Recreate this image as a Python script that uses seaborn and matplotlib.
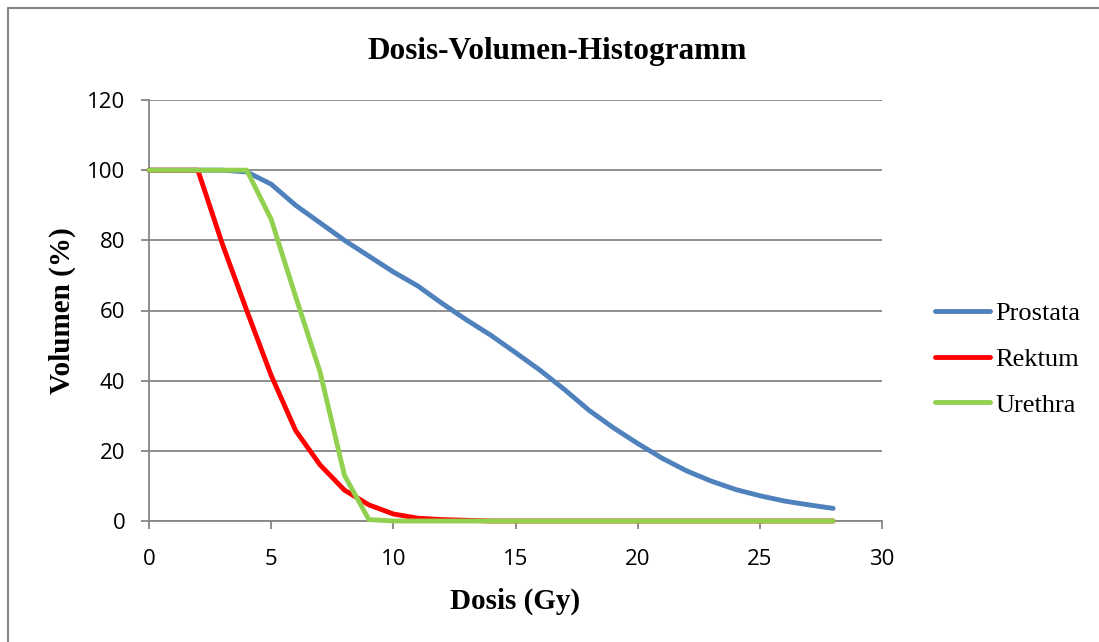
import numpy as np
import pandas as pd
import matplotlib
matplotlib.use('Agg')
import matplotlib.pyplot as plt
from matplotlib.lines import Line2D
import seaborn as sns

# Data (dose in Gy, volume in %)
dosis = list(range(0, 29))
prostata = [100, 100, 100, 100, 99.5, 96, 90, 85, 80, 75.5, 71, 67, 62, 57.3, 52.9,
            48, 43, 37.5, 31.6, 26.6, 22.1, 17.9, 14.3, 11.4, 9.0, 7.2, 5.7, 4.6, 3.6]
rektum = [100, 100, 100, 79, 60, 41.5, 25.8, 16, 8.8, 4.6, 2, 0.8, 0.4, 0.2, 0,
          0, 0, 0, 0, 0, 0, 0, 0, 0, 0, 0, 0, 0, 0]
urethra = [100, 100, 100, 100, 100, 86, 64, 42.5, 13, 0.4, 0, 0, 0, 0, 0,
           0, 0, 0, 0, 0, 0, 0, 0, 0, 0, 0, 0, 0, 0]
organe = ['Prostata', 'Rektum', 'Urethra']
farben = ['#4F81BD', '#FF0000', '#92D050']

df = pd.DataFrame({
    'Dosis': dosis * 3,
    'Volumen': prostata + rektum + urethra,
    'Organ': np.repeat(organe, len(dosis)),
})

sns.set_theme(style='white')
plt.rcParams['font.family'] = ['Liberation Serif', 'DejaVu Serif']
plt.rcParams['text.color'] = 'black'

GRAU = '#868686'
LW = 3.5

fig = plt.figure(figsize=(10.99, 6.42), dpi=100)
ax = fig.add_axes([149 / 1099, 1 - 521 / 642, 733 / 1099, 421 / 642])

sns.lineplot(data=df, x='Dosis', y='Volumen', hue='Organ', hue_order=organe,
             palette=farben, linewidth=LW, solid_capstyle='round',
             clip_on=False, zorder=3, legend=False, ax=ax)

ax.set_xlim(0, 30)
ax.set_ylim(0, 120)
ax.set_xticks(range(0, 31, 5))
ax.set_yticks(range(0, 121, 20))
ax.yaxis.grid(True, color=GRAU, linewidth=1.3)
ax.xaxis.grid(False)
for s in ['top', 'right']:
    ax.spines[s].set_visible(False)
for s in ['left', 'bottom']:
    ax.spines[s].set_color(GRAU)
    ax.spines[s].set_linewidth(1.3)
ax.tick_params(axis='both', direction='out', length=6, width=1.3, color=GRAU,
               labelsize=16, labelcolor='black', left=True, bottom=True)
ax.tick_params(axis='x', pad=14)
ax.tick_params(axis='y', pad=11)
for lab in ax.get_xticklabels() + ax.get_yticklabels():
    lab.set_family('Open Sans')

ax.set_xlabel('Dosis (Gy)', fontsize=21, fontweight='bold', color='black', labelpad=13)
ax.set_ylabel('Volumen (%)', fontsize=21, fontweight='bold', color='black')
ax.yaxis.set_label_coords(-0.099, 0.5)

fig.text(557 / 1099, 1 - 52 / 642, 'Dosis-Volumen-Histogramm', fontsize=22.5,
         fontweight='bold', ha='center', va='center', color='black')

handles = [Line2D([0], [0], color=c, lw=LW, solid_capstyle='round') for c in farben]
fig.legend(handles, organe, loc='center left',
           bbox_to_anchor=(935 / 1099, 1 - 359 / 642), frameon=False,
           fontsize=19, handlelength=2.1, handletextpad=0.2, labelspacing=0.85,
           borderpad=0, borderaxespad=0, labelcolor='black')

# chart area border (left and top edges visible)
fig.add_artist(Line2D([8 / 1099, 8 / 1099], [0, 1 - 8 / 642], color=GRAU, lw=1.5))
fig.add_artist(Line2D([8 / 1099, 1], [1 - 8 / 642, 1 - 8 / 642], color=GRAU, lw=1.5))

fig.savefig('out.png', dpi=100)
